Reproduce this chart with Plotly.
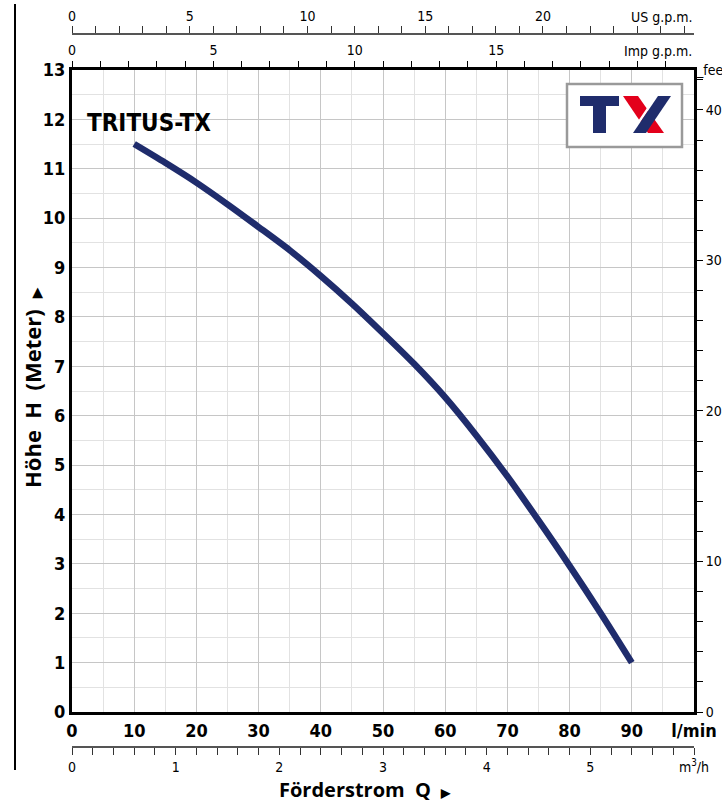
import plotly.graph_objects as go

# ---- data ----
flow_lpm = [10, 15, 20, 25, 30, 35, 40, 45, 50, 55, 60, 65, 70, 75, 80, 85, 90]
head_m = [11.5, 11.12, 10.72, 10.28, 9.82, 9.35, 8.83, 8.27, 7.67, 7.05, 6.37, 5.6, 4.77, 3.88, 2.96, 2.0, 1.0]

x_ticks = [0, 10, 20, 30, 40, 50, 60, 70, 80, 90, 100]
x_ticktext = ["0", "10", "20", "30", "40", "50", "60", "70", "80", "90", "l/min"]
y_ticks = list(range(0, 14))
feet_ticks = list(range(0, 43, 2))
feet_labels = [str(v) if v % 10 == 0 else "" for v in feet_ticks]
imp_ticks = list(range(0, 23))
imp_labels = [str(v) if v % 5 == 0 and v < 20 else "" for v in imp_ticks]
us_ticks = list(range(0, 27))
us_labels = [str(v) if v % 5 == 0 and v < 25 else "" for v in us_ticks]
m3h_ticks = [round(i * 0.2, 1) for i in range(0, 31)]
m3h_labels = [str(int(v)) if abs(v - round(v)) < 1e-9 and v < 6 else "" for v in m3h_ticks]
m3h_labels[-1] = "m<sup>3</sup>/h"

X_MAX = 100
Y_MAX = 13
LPM_TO_IMP = 0.219969
LPM_TO_US = 0.264172
LPM_TO_M3H = 0.06
M_TO_FT = 1 / 0.3048

NARROW = "DejaVu Sans Condensed, Liberation Sans Narrow, sans-serif"
BOLD = "Open Sans, Noto Sans, sans-serif"
CURVE = "#1f2c6c"

# page pixel -> paper helpers (body margin removed below)
FIG_W, FIG_H = 722, 803
PLOT_L, PLOT_R, PLOT_T, PLOT_B = 72, 694, 70, 712
PAPER_T, PAPER_B = 5, 800
PW = PLOT_R - PLOT_L
PH = PAPER_B - PAPER_T
def px(v):
    return (v - PLOT_L) / PW
def py(v):
    return (PAPER_B - v) / PH

fig = go.Figure()
fig.add_trace(go.Scatter(x=flow_lpm, y=head_m, mode="lines",
                         line=dict(color=CURVE, width=6.5, shape="spline", smoothing=0.8),
                         hoverinfo="skip", showlegend=False))
# invisible helper traces to register the secondary axes
for xa, ya in [("x2", "y"), ("x3", "y"), ("x4", "y"), ("x", "y2")]:
    fig.add_trace(go.Scatter(x=[0], y=[0], xaxis=xa, yaxis=ya, mode="markers",
                             marker=dict(opacity=0), hoverinfo="skip", showlegend=False))

dom = [py(PLOT_B), py(PLOT_T)]
small = dict(family=NARROW, size=14, color="black")

fig.update_layout(
    width=FIG_W, height=FIG_H,
    margin=dict(l=PLOT_L, r=FIG_W - PLOT_R, t=PAPER_T, b=FIG_H - PAPER_B, autoexpand=False),
    plot_bgcolor="white", paper_bgcolor="white",
    xaxis=dict(range=[0, X_MAX], tickmode="array", tickvals=x_ticks, ticktext=x_ticktext,
               showgrid=True, gridcolor="#c6c6c6", gridwidth=1.4, zeroline=False,
               showline=True, linecolor="black", linewidth=3, mirror=True, ticks="",
               tickfont=dict(family=NARROW, size=18, color="black", weight="bold"),
               minor=dict(tickvals=list(range(5, 100, 10)), showgrid=True,
                          gridcolor="#e2e2e2", gridwidth=1),
               automargin=False, fixedrange=True),
    yaxis=dict(range=[0, Y_MAX], domain=dom, tickmode="array", tickvals=y_ticks,
               showgrid=True, gridcolor="#c6c6c6", gridwidth=1.4, zeroline=False,
               showline=True, linecolor="black", linewidth=3, mirror=True, ticks="",
               tickfont=dict(family=NARROW, size=18, color="black", weight="bold"),
               minor=dict(tickvals=[i + 0.5 for i in range(13)], showgrid=True,
                          gridcolor="#e2e2e2", gridwidth=1),
               automargin=False, fixedrange=True),
    yaxis2=dict(range=[0, Y_MAX * M_TO_FT], overlaying="y", side="right", anchor="x",
                tickmode="array", tickvals=feet_ticks, ticktext=feet_labels,
                ticks="outside", ticklen=8, tickwidth=1.2, tickcolor="black",
                showgrid=False, zeroline=False, showline=False,
                tickfont=small, automargin=False, fixedrange=True),
    xaxis2=dict(range=[0, X_MAX * LPM_TO_IMP], overlaying="x", side="top", anchor="y",
                tickmode="array", tickvals=imp_ticks, ticktext=imp_labels,
                ticks="outside", ticklen=8, tickwidth=1.2, tickcolor="black",
                showgrid=False, zeroline=False, showline=False,
                tickfont=small, automargin=False, fixedrange=True),
    xaxis3=dict(range=[0, X_MAX * LPM_TO_US], overlaying="x", side="top", anchor="free",
                position=py(34),
                tickmode="array", tickvals=us_ticks, ticktext=us_labels,
                ticks="outside", ticklen=7, tickwidth=1.2, tickcolor="#333",
                showgrid=False, zeroline=False, showline=True, linecolor="#555", linewidth=1.5,
                tickfont=small, automargin=False, fixedrange=True),
    xaxis4=dict(range=[0, X_MAX * LPM_TO_M3H], overlaying="x", side="bottom", anchor="free",
                position=py(747),
                tickmode="array", tickvals=m3h_ticks, ticktext=m3h_labels,
                ticks="outside", ticklen=7, tickwidth=1.2, tickcolor="#333",
                showgrid=False, zeroline=False, showline=True, linecolor="#555", linewidth=1.5,
                tickfont=small, automargin=False, fixedrange=True),
)

ann = [
    dict(x=px(85), y=py(123), xanchor="left", yanchor="middle", text="TRITUS-TX",
         font=dict(family=NARROW, size=24, color="black", weight="bold")),
    dict(x=px(694), y=py(17), xanchor="right", yanchor="middle", text="US g.p.m.",
         font=small),
    dict(x=px(694), y=py(51), xanchor="right", yanchor="middle", text="Imp g.p.m.",
         font=small),
    dict(x=px(694), y=py(70), xanchor="left", yanchor="middle", text="_feet",
         font=small),
    dict(x=px(32), y=py(388), xanchor="center", yanchor="middle", textangle=-90,
         text="Höhe  H  (Meter)  <span style='font-size:13px'>▶</span>",
         font=dict(family=BOLD, size=22, color="black", weight="bold")),
    dict(x=px(365), y=py(789.5), xanchor="center", yanchor="middle",
         text="Förderstrom  Q  <span style='font-size:12px'>▶</span>",
         font=dict(family=BOLD, size=20, color="black", weight="bold")),
]
for a in ann:
    a.update(xref="paper", yref="paper", showarrow=False)
fig.update_layout(annotations=ann)

def rect(x0, y0, x1, y1, **kw):
    return dict(type="rect", xref="paper", yref="paper",
                x0=px(x0), x1=px(x1), y0=py(y1), y1=py(y0), **kw)

def poly(pts, color):
    path = "M " + " L ".join(f"{px(a)},{py(b)}" for a, b in pts) + " Z"
    return dict(type="path", xref="paper", yref="paper", path=path,
                fillcolor=color, line=dict(width=0))

shapes = [
    # left decorative rule
    dict(type="line", xref="paper", yref="paper", x0=px(15), x1=px(15), y0=py(770), y1=py(4),
         line=dict(color="black", width=2)),
    # logo box
    rect(567, 84, 682, 147, fillcolor="white", line=dict(color="#9a9a9a", width=2.5)),
    rect(580, 96, 619, 106, fillcolor="#1f2c6c", line=dict(width=0)),
    rect(593, 96, 606, 133, fillcolor="#1f2c6c", line=dict(width=0)),
    poly([(623, 96), (638, 96), (664, 133), (648, 133)], "#e3001b"),
    poly([(655, 96), (658, 96), (633, 133), (630, 133)], "white"),
    poly([(658, 96), (671, 96), (646, 133), (633, 133)], "#1f2c6c"),
]
fig.update_layout(shapes=shapes)

fig.write_html(
    "out.html",
    config={"displayModeBar": False},
    post_script="document.body.style.margin='0px';document.body.style.overflow='hidden';",
)
